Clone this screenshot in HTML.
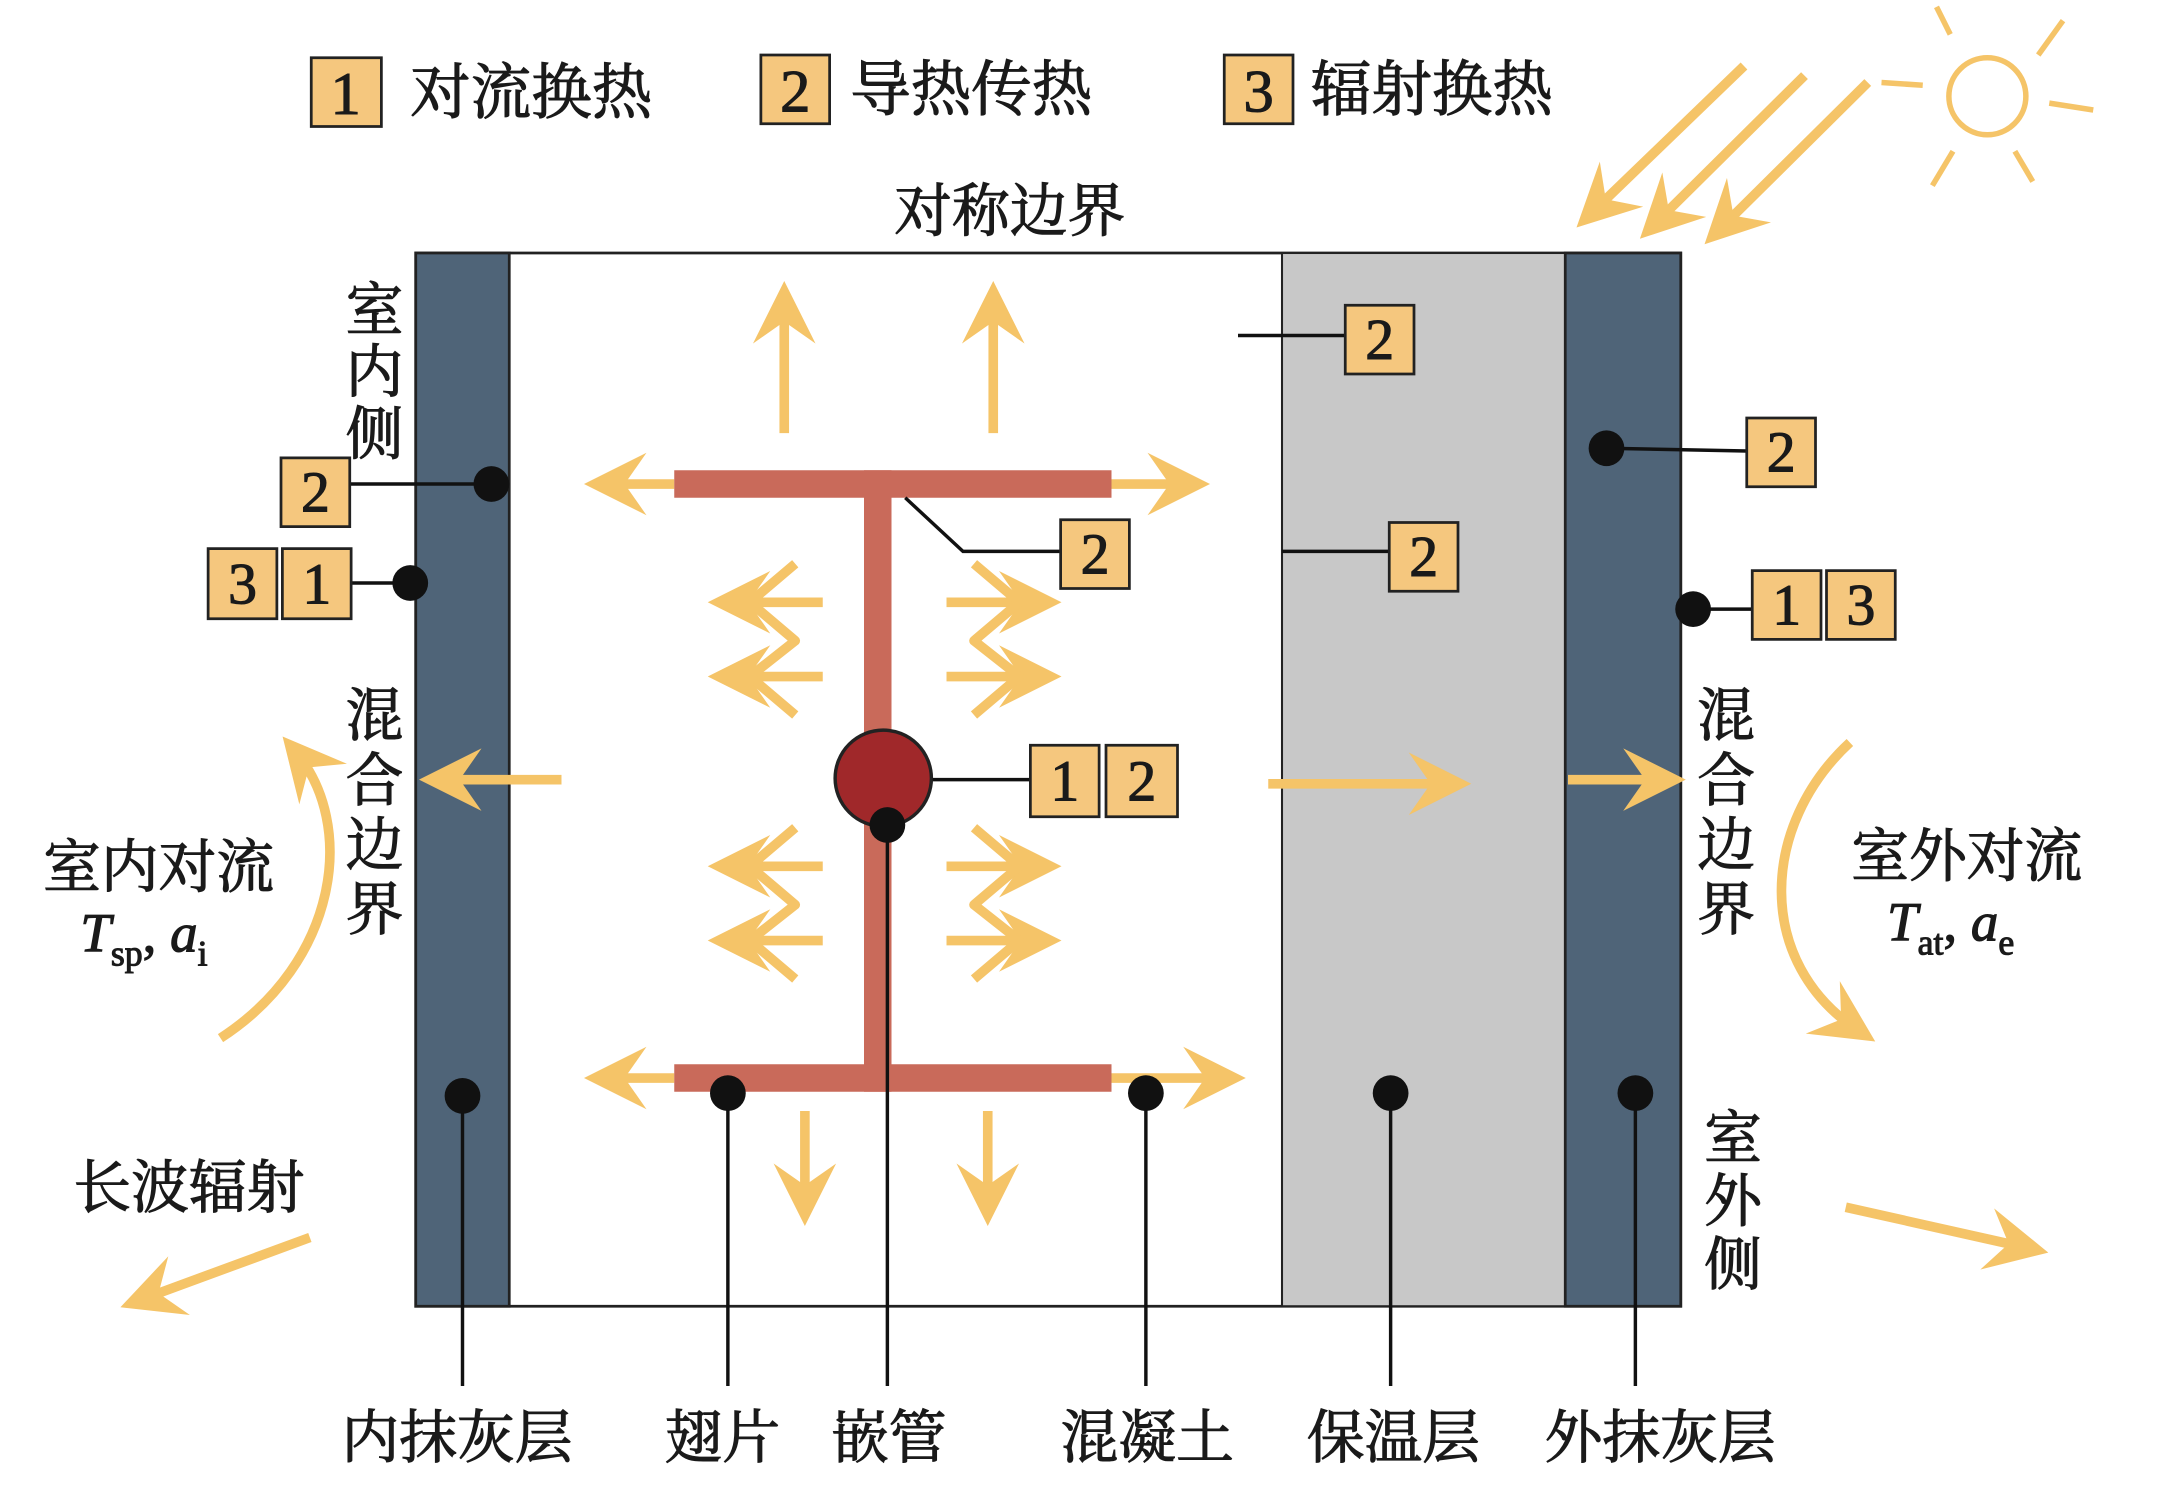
<!DOCTYPE html>
<html><head><meta charset="utf-8"><style>
html,body{margin:0;padding:0;background:#fff;}
svg{display:block}
text{font-family:"Liberation Serif","Noto Serif CJK SC","Noto Sans CJK SC",serif;fill:#1a1a1a;stroke:#1a1a1a;stroke-width:0.8}
</style></head><body>
<svg width="2157" height="1485" viewBox="0 0 1568 1080" xmlns="http://www.w3.org/2000/svg">
<defs>
<marker id="ah" viewBox="0 0 10 10" refX="7" refY="5" markerWidth="6.5" markerHeight="6.5" orient="auto">
<path d="M0,0 L10,5 L0,10 L3.5,5 z" fill="#f5c468"/>
</marker>
</defs>
<g font-size="44">
<rect x="226" y="42" width="51" height="50" fill="#f5c77e" stroke="#222" stroke-width="2"/><text x="251" y="83" text-anchor="middle">1</text>
<text x="298" y="82">对流换热</text>
<rect x="553" y="40" width="50" height="50" fill="#f5c77e" stroke="#222" stroke-width="2"/><text x="578" y="81" text-anchor="middle">2</text>
<text x="618" y="80">导热传热</text>
<rect x="890" y="40" width="50" height="50" fill="#f5c77e" stroke="#222" stroke-width="2"/><text x="915" y="81" text-anchor="middle">3</text>
<text x="953" y="80">辐射换热</text>
<text x="650" y="168" font-size="42">对称边界</text>
</g>
<!-- sun -->
<g stroke="#f5c468" stroke-width="4" fill="none">
<circle cx="1445" cy="70" r="28"/>
<line x1="1418" y1="25" x2="1408" y2="5"/><line x1="1482" y1="40" x2="1500" y2="15"/>
<line x1="1490" y1="75" x2="1522" y2="80"/><line x1="1465" y1="110" x2="1478" y2="132"/>
<line x1="1420" y1="110" x2="1405" y2="135"/><line x1="1398" y1="62" x2="1368" y2="60"/>
</g>
<g stroke="#f5c468" stroke-width="7" fill="none" marker-end="url(#ah)">
<line x1="1268" y1="48" x2="1156" y2="156"/>
<line x1="1312" y1="55" x2="1202" y2="164"/>
<line x1="1358" y1="60" x2="1249" y2="168"/>
</g>
<!-- wall -->
<rect x="302" y="184" width="920" height="766" fill="#fff" stroke="#222" stroke-width="2"/>
<rect x="932" y="184" width="206" height="766" fill="#c8c8c8" stroke="#222" stroke-width="1.5"/>
<rect x="302" y="184" width="68" height="766" fill="#4f6478" stroke="#222" stroke-width="2"/>
<rect x="1138" y="184" width="84" height="766" fill="#4f6478" stroke="#222" stroke-width="2"/>
<!-- arrows -->
<g stroke="#f5c468" stroke-width="7" fill="none" marker-end="url(#ah)">
<line x1="570" y1="315" x2="570" y2="218"/><line x1="722" y1="315" x2="722" y2="218"/>
<line x1="490" y1="352" x2="438" y2="352"/><line x1="808" y1="352" x2="866" y2="352"/>
<line x1="490" y1="784" x2="438" y2="784"/><line x1="808" y1="784" x2="892" y2="784"/>
<line x1="585" y1="808" x2="585" y2="878"/><line x1="718" y1="808" x2="718" y2="878"/>
<line x1="408" y1="567" x2="318" y2="567"/>
<line x1="922" y1="570" x2="1056" y2="570"/>
<line x1="1140" y1="567" x2="1212" y2="567"/>
<line x1="225" y1="900" x2="100" y2="946"/>
<line x1="1342" y1="878" x2="1476" y2="908"/>
<line x1="598" y1="438" x2="528" y2="438"/><line x1="598" y1="492" x2="528" y2="492"/>
<line x1="598" y1="630" x2="528" y2="630"/><line x1="598" y1="684" x2="528" y2="684"/>
<line x1="688" y1="438" x2="758" y2="438"/><line x1="688" y1="492" x2="758" y2="492"/>
<line x1="688" y1="630" x2="758" y2="630"/><line x1="688" y1="684" x2="758" y2="684"/>
<path d="M160,755 C245,700 260,600 214,546"/>
<path d="M1345,540 C1280,600 1275,700 1352,750"/>
</g>
<g stroke="#f5c468" stroke-width="7" fill="none" stroke-linejoin="round">
<polyline points="578,410 545,438 578,466 545,492 578,520"/>
<polyline points="578,602 545,630 578,658 545,684 578,712"/>
<polyline points="708,410 741,438 708,466 741,492 708,520"/>
<polyline points="708,602 741,630 708,658 741,684 708,712"/>
</g>
<!-- fin -->
<g fill="#c96a5a">
<rect x="490" y="342" width="318" height="20"/>
<rect x="490" y="774" width="318" height="20"/>
<rect x="628" y="342" width="20" height="452"/>
</g>
<circle cx="642" cy="566" r="35" fill="#a0282a" stroke="#222" stroke-width="2.5"/>
<!-- callouts -->
<g stroke="#111" stroke-width="2.5" fill="none">
<line x1="900" y1="244" x2="978" y2="244"/>
<line x1="254" y1="352" x2="357" y2="352"/>
<line x1="255" y1="424" x2="298" y2="424"/>
<polyline points="658,362 700,401 771,401"/>
<line x1="932" y1="401" x2="1010" y2="401"/>
<line x1="1168" y1="326" x2="1270" y2="328"/>
<line x1="1231" y1="443" x2="1274" y2="443"/>
<line x1="678" y1="567" x2="749" y2="567"/>
<line x1="336" y1="797" x2="336" y2="1008"/>
<line x1="529" y1="795" x2="529" y2="1008"/>
<line x1="645" y1="600" x2="645" y2="1008"/>
<line x1="833" y1="795" x2="833" y2="1008"/>
<line x1="1011" y1="795" x2="1011" y2="1008"/>
<line x1="1189" y1="795" x2="1189" y2="1008"/>
</g>
<g fill="#111">
<circle cx="357" cy="352" r="13"/><circle cx="298" cy="424" r="13"/>
<circle cx="1168" cy="326" r="13"/><circle cx="1231" cy="443" r="13"/>
<circle cx="336" cy="797" r="13"/><circle cx="529" cy="795" r="13"/>
<circle cx="645" cy="600" r="13"/><circle cx="833" cy="795" r="13"/>
<circle cx="1011" cy="795" r="13"/><circle cx="1189" cy="795" r="13"/>
</g>
<g font-size="42" text-anchor="middle">
<rect x="978" y="222" width="50" height="50" fill="#f5c77e" stroke="#222" stroke-width="2"/><text x="1003" y="261">2</text>
<rect x="204" y="333" width="50" height="50" fill="#f5c77e" stroke="#222" stroke-width="2"/><text x="229" y="372">2</text>
<rect x="151" y="399" width="50" height="51" fill="#f5c77e" stroke="#222" stroke-width="2"/><text x="176" y="439">3</text>
<rect x="205" y="399" width="50" height="51" fill="#f5c77e" stroke="#222" stroke-width="2"/><text x="230" y="439">1</text>
<rect x="771" y="378" width="50" height="50" fill="#f5c77e" stroke="#222" stroke-width="2"/><text x="796" y="417">2</text>
<rect x="1010" y="380" width="50" height="50" fill="#f5c77e" stroke="#222" stroke-width="2"/><text x="1035" y="419">2</text>
<rect x="1270" y="304" width="50" height="50" fill="#f5c77e" stroke="#222" stroke-width="2"/><text x="1295" y="343">2</text>
<rect x="1274" y="415" width="50" height="50" fill="#f5c77e" stroke="#222" stroke-width="2"/><text x="1299" y="454">1</text>
<rect x="1328" y="415" width="50" height="50" fill="#f5c77e" stroke="#222" stroke-width="2"/><text x="1353" y="454">3</text>
<rect x="749" y="542" width="50" height="52" fill="#f5c77e" stroke="#222" stroke-width="2"/><text x="774" y="582">1</text>
<rect x="804" y="542" width="52" height="52" fill="#f5c77e" stroke="#222" stroke-width="2"/><text x="830" y="582">2</text>
</g>
<!-- labels -->
<g font-size="42" text-anchor="middle">
<text x="272" y="240">室</text><text x="272" y="285">内</text><text x="272" y="330">侧</text>
<text x="272" y="535">混</text><text x="272" y="582">合</text><text x="272" y="629">边</text><text x="272" y="676">界</text>
<text x="1255" y="535">混</text><text x="1255" y="582">合</text><text x="1255" y="629">边</text><text x="1255" y="676">界</text>
<text x="1260" y="842">室</text><text x="1260" y="888">外</text><text x="1260" y="934">侧</text>
<text x="115" y="645">室内对流</text>
<text x="1430" y="637">室外对流</text>
<text x="137" y="878">长波辐射</text>
<text x="332" y="1060">内抹灰层</text>
<text x="525" y="1060">翅片</text>
<text x="646" y="1060">嵌管</text>
<text x="834" y="1060">混凝土</text>
<text x="1013" y="1060">保温层</text>
<text x="1207" y="1060">外抹灰层</text>
</g>
<text x="58" y="692" font-size="40" font-style="italic">T<tspan font-size="26" font-style="normal" dy="10">sp</tspan><tspan dy="-10" font-style="normal">, </tspan><tspan>a</tspan><tspan font-size="26" font-style="normal" dy="10">i</tspan></text>
<text x="1372" y="684" font-size="40" font-style="italic">T<tspan font-size="26" font-style="normal" dy="10">at</tspan><tspan dy="-10" font-style="normal">, </tspan><tspan>a</tspan><tspan font-size="26" font-style="normal" dy="10">e</tspan></text>
</svg>
</body></html>
